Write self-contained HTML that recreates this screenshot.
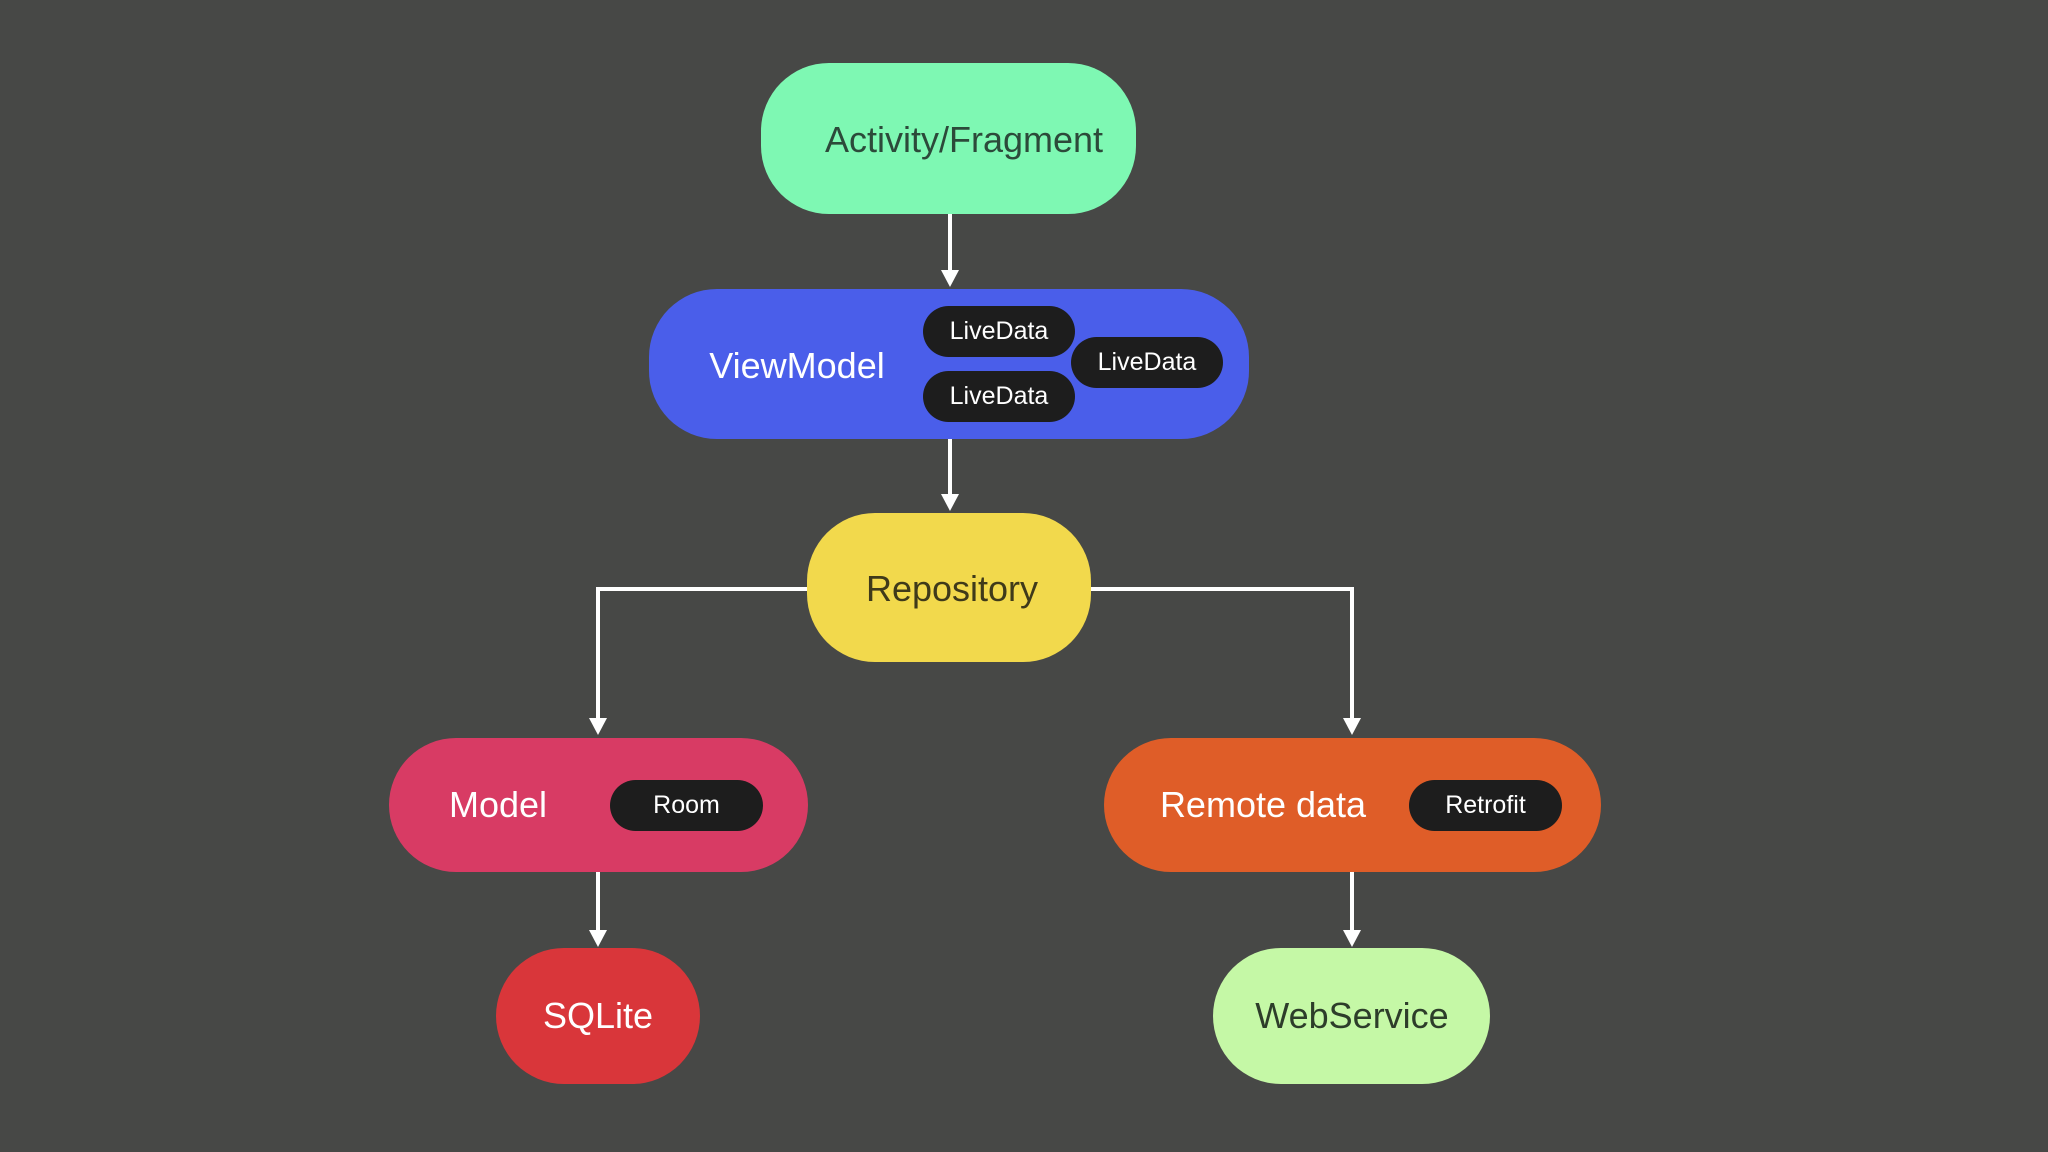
<!DOCTYPE html>
<html><head><style>
body{margin:0;width:2048px;height:1152px;background:#474846;position:relative;overflow:hidden;font-family:"Liberation Sans",sans-serif}
.n{position:absolute;box-sizing:border-box;border-radius:68px}
.t{position:absolute;transform:translate(-50%,-50%);white-space:nowrap;font-size:36px}
.p{position:absolute;background:#1d1d1d;border-radius:26px;color:#fff;font-size:25px;display:flex;align-items:center;justify-content:center}
</style></head><body>
<svg width="2048" height="1152" style="position:absolute;left:0;top:0">
<g stroke="#fff" stroke-width="4" fill="none">
<line x1="950" y1="214" x2="950" y2="276"/><path d="M941,270 L959,270 L950,287 Z" fill="#fff" stroke="none"/>
<line x1="950" y1="439" x2="950" y2="500"/><path d="M941,494 L959,494 L950,511 Z" fill="#fff" stroke="none"/>
<polyline points="807,589 598,589 598,724"/><path d="M589,718 L607,718 L598,735 Z" fill="#fff" stroke="none"/>
<polyline points="1091,589 1352,589 1352,724"/><path d="M1343,718 L1361,718 L1352,735 Z" fill="#fff" stroke="none"/>
<line x1="598" y1="872" x2="598" y2="936"/><path d="M589,930 L607,930 L598,947 Z" fill="#fff" stroke="none"/>
<line x1="1352" y1="872" x2="1352" y2="936"/><path d="M1343,930 L1361,930 L1352,947 Z" fill="#fff" stroke="none"/>
</g></svg>
<div class="n" style="left:761px;top:63px;width:375px;height:151px;background:#7ef8b3"></div>
<div class="t" style="left:964px;top:140px;color:#2c4a3a">Activity/Fragment</div>
<div class="n" style="left:649px;top:289px;width:600px;height:150px;background:#4a5eea"></div>
<div class="t" style="left:797px;top:366px;color:#fff">ViewModel</div>
<div class="p" style="left:923px;top:306px;width:152px;height:51px">LiveData</div>
<div class="p" style="left:923px;top:371px;width:152px;height:51px">LiveData</div>
<div class="p" style="left:1071px;top:337px;width:152px;height:51px">LiveData</div>
<div class="n" style="left:807px;top:513px;width:284px;height:149px;background:#f2d94c"></div>
<div class="t" style="left:952px;top:589px;color:#3f3a1a">Repository</div>
<div class="n" style="left:389px;top:738px;width:419px;height:134px;background:#d83b64"></div>
<div class="t" style="left:498px;top:805px;color:#fff">Model</div>
<div class="p" style="left:610px;top:780px;width:153px;height:51px">Room</div>
<div class="n" style="left:1104px;top:738px;width:497px;height:134px;background:#df5d28"></div>
<div class="t" style="left:1263px;top:805px;color:#fff">Remote data</div>
<div class="p" style="left:1409px;top:780px;width:153px;height:51px">Retrofit</div>
<div class="n" style="left:496px;top:948px;width:204px;height:136px;background:#d9363a"></div>
<div class="t" style="left:598px;top:1016px;color:#fff">SQLite</div>
<div class="n" style="left:1213px;top:948px;width:277px;height:136px;background:#c5f8a6"></div>
<div class="t" style="left:1352px;top:1016px;color:#2d3d2a">WebService</div>
</body></html>
